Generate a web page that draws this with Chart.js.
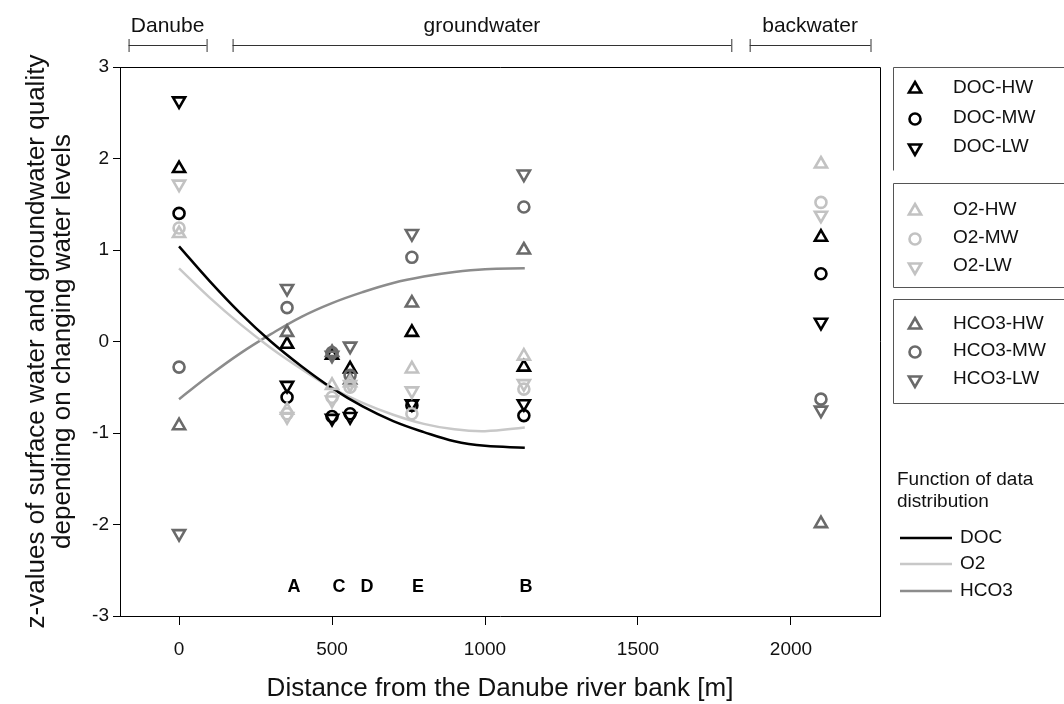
<!DOCTYPE html>
<html>
<head>
<meta charset="utf-8">
<script src="https://cdn.jsdelivr.net/npm/chart.js@4.4.0/dist/chart.umd.min.js"></script>
<style>
  html, body { margin: 0; padding: 0; background: #fff; }
  #wrap { width: 1064px; height: 704px; }
</style>
</head>
<body>
<div id="wrap"><canvas id="chart"></canvas></div>
<script>
// sampling sites: Danube, A, C, D, E, B, backwater (distance in m)
const sites = [0, 353, 500, 559, 761, 1127, 2098];

// z-values per water level (HW / MW / LW)
const docHW = [1.89, -0.03, -0.15, -0.30, 0.10, -0.28, 1.14];
const docMW = [1.40, -0.61, -0.82, -0.79, -0.70, -0.81, 0.74];
const docLW = [2.63, -0.48, -0.84, -0.82, -0.68, -0.68, 0.21];
const o2HW = [1.18, -0.75, -0.48, -0.45, -0.30, -0.16, 1.94];
const o2MW = [1.24, -0.79, -0.61, -0.50, -0.79, -0.52, 1.52];
const o2LW = [1.72, -0.82, -0.64, -0.47, -0.54, -0.46, 1.38];
const hco3HW = [-0.92, 0.10, -0.12, -0.42, 0.42, 1.00, -1.99];
const hco3MW = [-0.28, 0.37, -0.12, -0.37, 0.92, 1.47, -0.63];
const hco3LW = [-2.10, 0.58, -0.15, -0.05, 1.18, 1.83, -0.75];

// fitted distribution functions
const curveX = [0, 100, 200, 300, 400, 500, 600, 700, 800, 900, 1000, 1130];
const docFit = [1.04, 0.66, 0.31, 0.00, -0.27, -0.51, -0.71, -0.87, -0.99, -1.09, -1.14, -1.16];
const o2Fit = [0.80, 0.48, 0.19, -0.07, -0.30, -0.51, -0.67, -0.80, -0.90, -0.96, -0.98, -0.94];
const hco3Fit = [-0.63, -0.37, -0.13, 0.08, 0.27, 0.42, 0.54, 0.64, 0.71, 0.76, 0.79, 0.80];

const xTicks = [0, 500, 1000, 1500, 2000];
const yTicks = [-3, -2, -1, 0, 1, 2, 3];

const siteLetters = ['A', 'C', 'D', 'E', 'B'];
const letterX = [376, 523, 614, 781, 1134];
const letterY = -2.68;

const zones = ['Danube', 'groundwater', 'backwater'];
const zoneFrom = [-165, 175, 1865];
const zoneTo = [90, 1805, 2260];

const FONT = '"Liberation Sans", Arial, sans-serif';
const colors = { DOC: '#000000', O2: '#c2c2c2', HCO3: '#6a6a6a' };
const curveColors = { DOC: '#000000', O2: '#c8c8c8', HCO3: '#8c8c8c' };
const shapes = {
  HW: { pointStyle: 'triangle', rotation: 0, radius: 7 },
  MW: { pointStyle: 'circle', rotation: 0, radius: 5.5 },
  LW: { pointStyle: 'triangle', rotation: 180, radius: 7 }
};

function toPoints(xs, ys) {
  return xs.map((x, i) => ({ x: x, y: ys[i] }));
}

function markerSet(label, group, level, values) {
  const s = shapes[level];
  return {
    type: 'scatter',
    label: label,
    data: toPoints(sites, values),
    pointStyle: s.pointStyle,
    rotation: s.rotation,
    pointRadius: s.radius,
    pointHoverRadius: s.radius,
    borderColor: colors[group],
    backgroundColor: 'rgba(0,0,0,0)',
    pointBorderWidth: 2.6,
    order: 1
  };
}

function curveSet(label, group, values) {
  return {
    type: 'line',
    label: label,
    data: toPoints(curveX, values),
    borderColor: curveColors[group],
    borderWidth: 2.5,
    pointRadius: 0,
    tension: 0.4,
    fill: false,
    order: 2
  };
}

// draw a legend marker the same way Chart.js does
function marker(ctx, level, x, y, color) {
  const s = shapes[level];
  ctx.save();
  ctx.strokeStyle = color;
  ctx.lineWidth = 2.6;
  ctx.beginPath();
  if (s.pointStyle === 'circle') {
    ctx.arc(x, y, s.radius, 0, Math.PI * 2);
  } else {
    const rot = s.rotation * Math.PI / 180;
    for (let i = 0; i < 3; i++) {
      const a = rot + i * Math.PI * 2 / 3;
      const px = x + Math.sin(a) * s.radius;
      const py = y - Math.cos(a) * s.radius;
      if (i === 0) ctx.moveTo(px, py); else ctx.lineTo(px, py);
    }
    ctx.closePath();
  }
  ctx.stroke();
  ctx.restore();
}

const decorations = {
  id: 'decorations',
  afterDatasetsDraw(chart) {
    const ctx = chart.ctx;
    const area = chart.chartArea;
    const xs = chart.scales.x;
    const ys = chart.scales.y;

    ctx.save();
    // frame: top and right edge of plot
    ctx.strokeStyle = '#000';
    ctx.lineWidth = 1;
    ctx.beginPath();
    ctx.moveTo(area.left, area.top + 0.5);
    ctx.lineTo(area.right + 0.5, area.top + 0.5);
    ctx.lineTo(area.right + 0.5, area.bottom);
    ctx.stroke();

    // site letters
    ctx.fillStyle = '#000';
    ctx.font = 'bold 18px ' + FONT;
    ctx.textAlign = 'center';
    ctx.textBaseline = 'middle';
    siteLetters.forEach((t, i) => {
      ctx.fillText(t, xs.getPixelForValue(letterX[i]), ys.getPixelForValue(letterY));
    });

    // zone brackets on top
    ctx.font = '21px ' + FONT;
    ctx.fillStyle = '#111';
    ctx.strokeStyle = '#333';
    zones.forEach((z, i) => {
      const x1 = xs.getPixelForValue(zoneFrom[i]);
      const x2 = xs.getPixelForValue(zoneTo[i]);
      ctx.beginPath();
      ctx.moveTo(x1, 45.5); ctx.lineTo(x2, 45.5);
      ctx.moveTo(x1 + 0.5, 39); ctx.lineTo(x1 + 0.5, 52);
      ctx.moveTo(x2 + 0.5, 39); ctx.lineTo(x2 + 0.5, 52);
      ctx.stroke();
      ctx.fillText(z, (x1 + x2) / 2, 26);
    });

    // legend boxes
    const groups = [
      { g: 'DOC', top: 67, bottom: 170, rows: [88, 118, 147], closed: false },
      { g: 'O2', top: 183, bottom: 287, rows: [210, 238, 266], closed: true },
      { g: 'HCO3', top: 299, bottom: 403, rows: [324, 351, 379], closed: true }
    ];
    const levels = ['HW', 'MW', 'LW'];
    ctx.font = '19px ' + FONT;
    ctx.textAlign = 'left';
    groups.forEach(b => {
      ctx.strokeStyle = '#555';
      ctx.lineWidth = 1;
      ctx.beginPath();
      ctx.moveTo(1070, b.top + 0.5);
      ctx.lineTo(893.5, b.top + 0.5);
      ctx.lineTo(893.5, b.bottom + 0.5);
      if (b.closed) ctx.lineTo(1070, b.bottom + 0.5);
      ctx.stroke();
      levels.forEach((lv, i) => {
        marker(ctx, lv, 915, b.rows[i] + 1, colors[b.g]);
        ctx.fillStyle = '#111';
        ctx.fillText(b.g + '-' + lv, 953, b.rows[i]);
      });
    });

    // legend for fitted functions
    ctx.fillStyle = '#111';
    ctx.fillText('Function of data', 897, 480);
    ctx.fillText('distribution', 897, 502);
    const fits = [['DOC', 538], ['O2', 564], ['HCO3', 591]];
    fits.forEach(f => {
      ctx.strokeStyle = curveColors[f[0]];
      ctx.lineWidth = 2.5;
      ctx.beginPath();
      ctx.moveTo(900, f[1]);
      ctx.lineTo(952, f[1]);
      ctx.stroke();
      ctx.fillText(f[0], 960, f[1]);
    });
    ctx.restore();
  }
};

document.addEventListener('DOMContentLoaded', function () {
  const ctx = document.getElementById('chart').getContext('2d');
  Chart.defaults.font.family = FONT;
  Chart.defaults.color = '#111';

  new Chart(ctx, {
    type: 'scatter',
    data: {
      datasets: [
        curveSet('DOC', 'DOC', docFit),
        curveSet('O2', 'O2', o2Fit),
        curveSet('HCO3', 'HCO3', hco3Fit),
        markerSet('O2-HW', 'O2', 'HW', o2HW),
        markerSet('O2-MW', 'O2', 'MW', o2MW),
        markerSet('O2-LW', 'O2', 'LW', o2LW),
        markerSet('HCO3-HW', 'HCO3', 'HW', hco3HW),
        markerSet('HCO3-MW', 'HCO3', 'MW', hco3MW),
        markerSet('HCO3-LW', 'HCO3', 'LW', hco3LW),
        markerSet('DOC-HW', 'DOC', 'HW', docHW),
        markerSet('DOC-MW', 'DOC', 'MW', docMW),
        markerSet('DOC-LW', 'DOC', 'LW', docLW)
      ]
    },
    options: {
      responsive: true,
      maintainAspectRatio: false,
      animation: false,
      layout: { padding: { top: 67, right: 184, bottom: 0, left: 0 } },
      plugins: { legend: { display: false }, tooltip: { enabled: false } },
      scales: {
        x: {
          type: 'linear',
          min: -193,
          max: 2291,
          afterBuildTicks: s => { s.ticks = xTicks.map(v => ({ value: v })); },
          afterFit: s => { s.height = 88; },
          grid: { drawOnChartArea: false, drawTicks: true, tickLength: 9, color: '#000' },
          border: { display: true, color: '#000', width: 1 },
          ticks: { font: { size: 19 }, color: '#111', padding: 13, maxRotation: 0, callback: v => String(v) },
          title: {
            display: true,
            text: 'Distance from the Danube river bank [m]',
            font: { size: 26 },
            color: '#111',
            padding: { top: 0, bottom: 0 }
          }
        },
        y: {
          type: 'linear',
          min: -3,
          max: 3,
          afterBuildTicks: s => { s.ticks = yTicks.map(v => ({ value: v })); },
          afterFit: s => { s.width = 120; },
          grid: { drawOnChartArea: false, drawTicks: true, tickLength: 7, color: '#000' },
          border: { display: true, color: '#000', width: 1 },
          ticks: { font: { size: 19 }, color: '#111', padding: 4, callback: v => String(v) },
          title: {
            display: true,
            text: ['z-values of surface water and groundwater quality', 'depending on changing water levels'],
            font: { size: 26, lineHeight: 1.0 },
            color: '#111',
            padding: { top: 24, bottom: 0 }
          }
        }
      }
    },
    plugins: [decorations]
  });
});
</script>
</body>
</html>
